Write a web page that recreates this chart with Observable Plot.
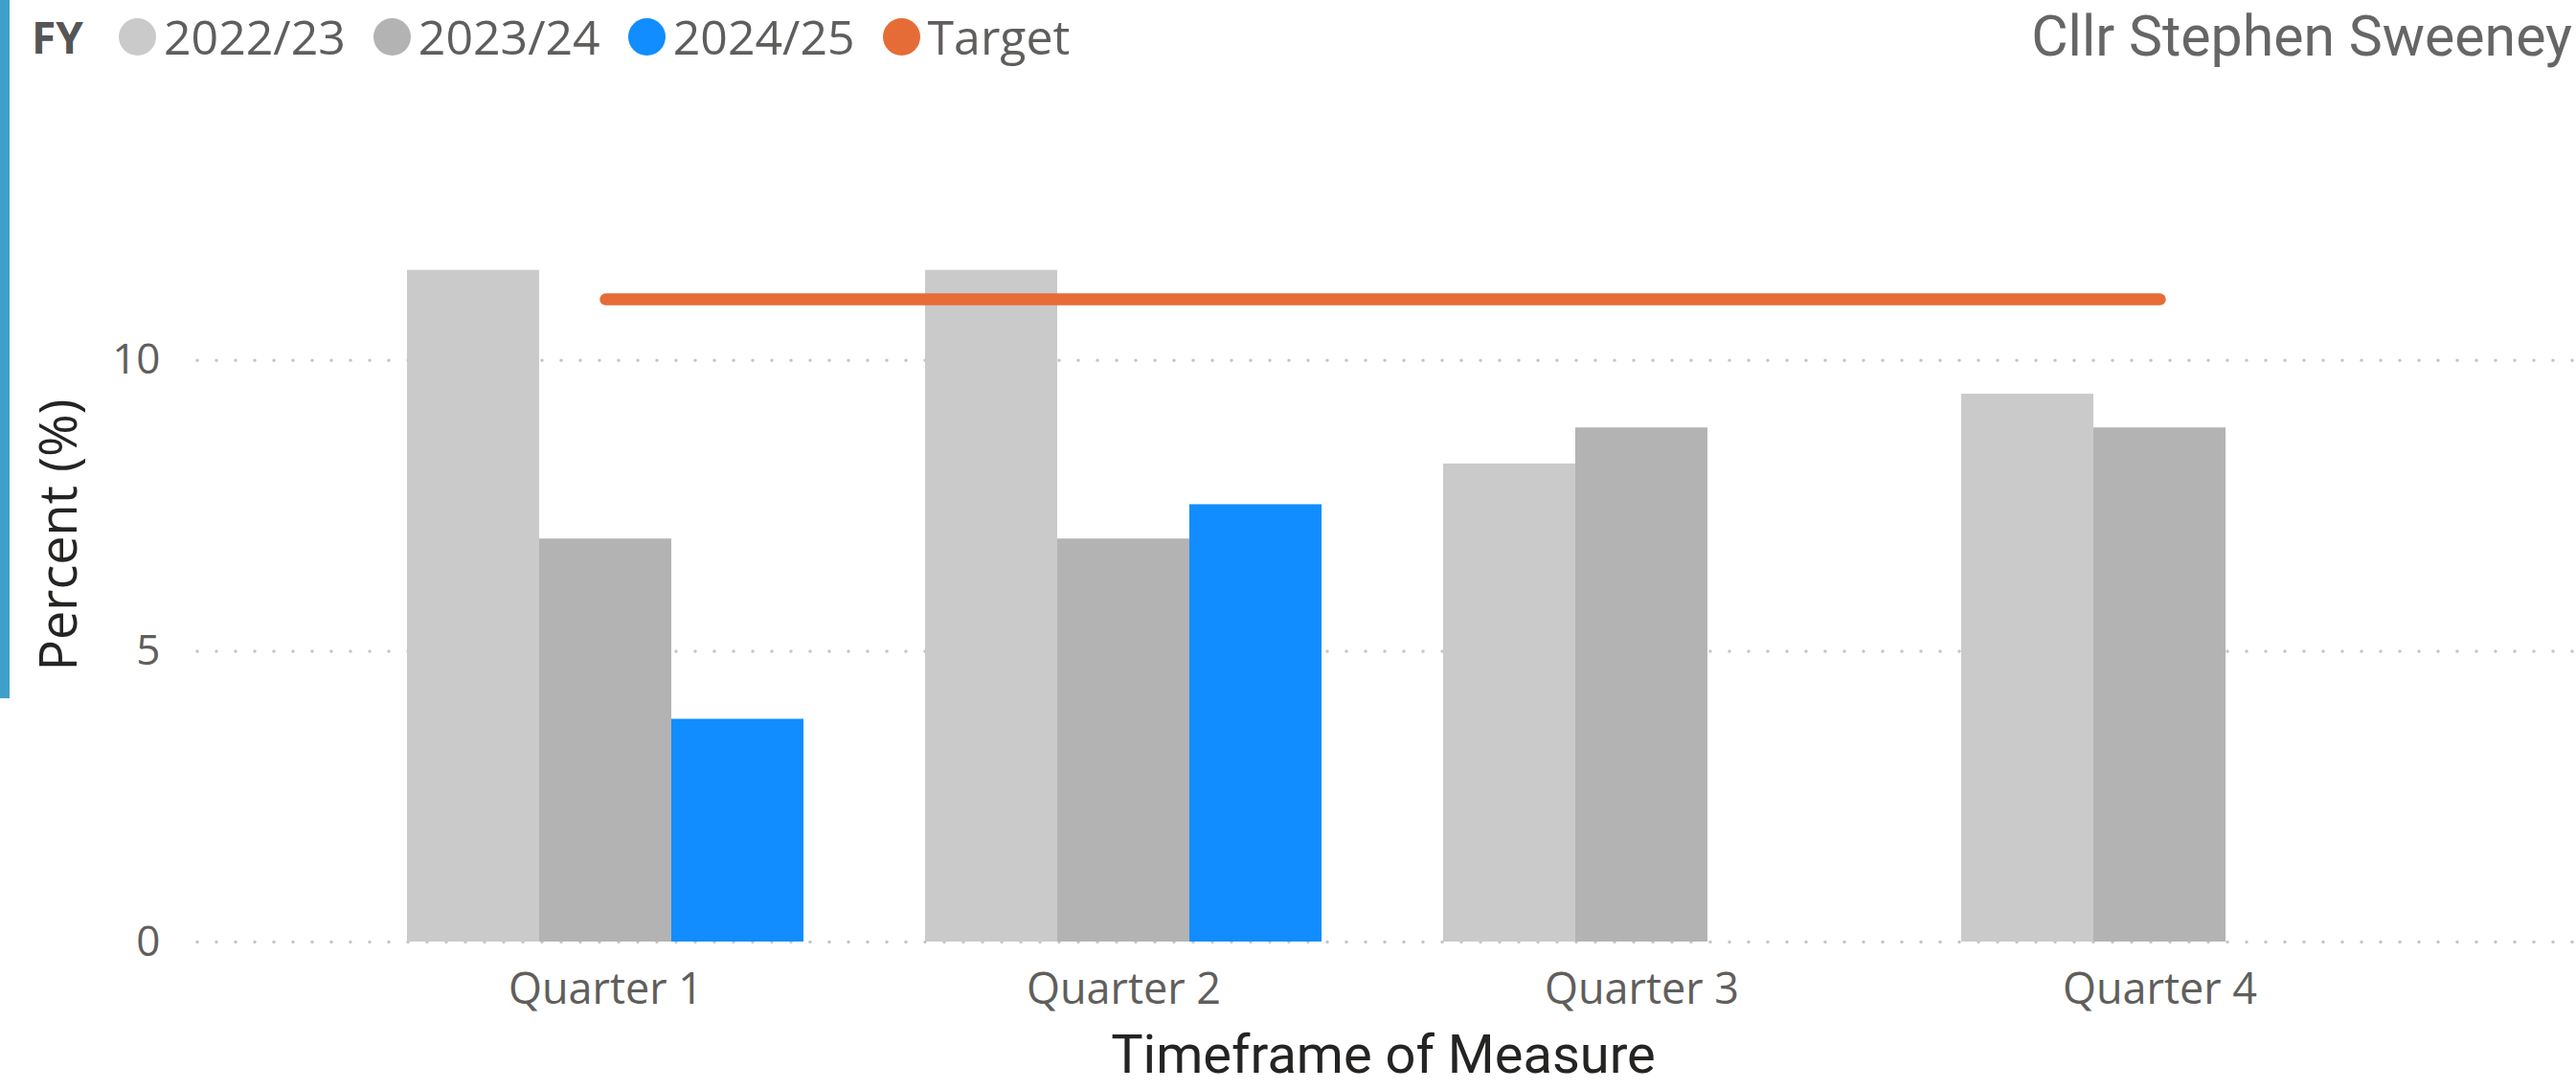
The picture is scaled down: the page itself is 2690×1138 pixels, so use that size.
<!DOCTYPE html>
<html>
<head>
<meta charset="utf-8">
<script src="https://cdn.jsdelivr.net/npm/d3@7"></script>
<script src="https://cdn.jsdelivr.net/npm/@observablehq/plot@0.6"></script>
<style>
html, body { margin: 0; padding: 0; background: #fff; }
#root { position: relative; width: 2690px; height: 1138px; overflow: hidden; font-family: "Open Sans", sans-serif; }
#accent { position: absolute; left: 0; top: 0; width: 10px; height: 729px; background: #3fa0c9; }
#header { position: absolute; left: 0; top: 0; width: 2690px; height: 80px; }
#legend { position: absolute; left: 33px; top: 0; height: 76px; display: flex; align-items: center; color: #605e5c; font-size: 50px; white-space: nowrap; }
#legend .fy { font-weight: 700; font-size: 46px; color: #555; margin-right: 37px; }
#legend .item { display: flex; align-items: center; margin-right: 29px; }
#legend .dot { width: 39px; height: 39px; border-radius: 50%; margin-right: 8px; }
#title { position: absolute; right: 4px; top: 0; height: 76px; line-height: 76px; font-family: Roboto, sans-serif; font-size: 59px; color: #666; white-space: nowrap; }
#plots { position: absolute; left: 0; top: 80px; width: 2690px; height: 1058px; }
#plots svg { position: absolute; left: 0; top: 0; }
</style>
</head>
<body>
<div id="root">
  <div id="accent"></div>
  <div id="header">
    <div id="legend"></div>
    <div id="title">Cllr Stephen Sweeney</div>
  </div>
  <div id="plots"></div>
</div>
<script>
// ---- data ----
const quarters = ["Quarter 1", "Quarter 2", "Quarter 3", "Quarter 4"];
const fys = ["2022/23", "2023/24", "2024/25"];
const values2022 = [11.55, 11.55, 8.22, 9.42];
const values2023 = [6.93, 6.93, 8.84, 8.84];
const values2024 = [3.83, 7.52, null, null];
const targetValues = [11.05, 11.05, 11.05, 11.05];
const yTicks = [0, 5, 10];
const legendLabels = ["2022/23", "2023/24", "2024/25", "Target"];
const fyColors = ["#cacaca", "#b3b3b3", "#118dff"];
const targetColor = "#e66c37";

// ---- tables built from arrays ----
const seriesByFy = [values2022, values2023, values2024];
const bars = quarters.flatMap((q, i) =>
  fys.map((fy, j) => ({quarter: q, fy, value: seriesByFy[j][i]})).filter(d => d.value != null)
);
const targetRows = quarters.map((q, i) => ({quarter: q, target: targetValues[i]}));

// ---- legend ----
const legend = document.getElementById("legend");
const fyEl = document.createElement("span");
fyEl.className = "fy"; fyEl.textContent = "FY";
legend.appendChild(fyEl);
legendLabels.forEach((lab, i) => {
  const item = document.createElement("span");
  item.className = "item";
  const dot = document.createElement("span");
  dot.className = "dot";
  dot.style.background = i < fyColors.length ? fyColors[i] : targetColor;
  const t = document.createElement("span");
  t.textContent = lab;
  item.appendChild(dot); item.appendChild(t);
  legend.appendChild(item);
});

// ---- shared layout ----
const W = 2690, H = 1058;
const margins = {marginLeft: 206, marginRight: 8, marginTop: 53, marginBottom: 155};
const yDomain = [0, 14];
const bandPad = {paddingInner: 0.234, paddingOuter: 0.4025};
const baseStyle = {fontFamily: "'Open Sans', sans-serif", fontSize: "45px", color: "#605e5c", background: "transparent", overflow: "visible"};

// back layer: grid, axes, axis titles
const back = Plot.plot({
  width: W, height: H, ...margins, style: baseStyle,
  x: {type: "band", domain: quarters, ...bandPad},
  y: {domain: yDomain},
  marks: [
    Plot.ruleY(yTicks, {stroke: "#c6c6c6", strokeWidth: 3.5, strokeDasharray: "0 20", strokeLinecap: "round", insetRight: -8}),
    Plot.axisY(yTicks, {tickSize: 0, tickPadding: 39, label: null, fontSize: 44, tickFormat: d => String(d)}),
    Plot.axisX({tickSize: 0, tickPadding: 33, label: null, fontSize: 45}),
    Plot.text(["Percent (%)"], {text: d => d, frameAnchor: "left", textAnchor: "middle", lineAnchor: "middle", rotate: -90, dx: -144, fontSize: 54, fill: "#252423"}),
    Plot.text(["Timeframe of Measure"], {text: d => d, frameAnchor: "bottom", textAnchor: "middle", lineAnchor: "middle", dy: 119, fontSize: 56, fontFamily: "Roboto, sans-serif", fill: "#252423"})
  ]
});

// middle layer: grouped bars
const mid = Plot.plot({
  width: W, height: H, ...margins, style: baseStyle,
  fx: {domain: quarters, ...bandPad, axis: null, label: null},
  x: {domain: fys, padding: 0, axis: null},
  y: {domain: yDomain, axis: null},
  color: {domain: fys, range: fyColors},
  marks: [
    Plot.barY(bars, {fx: "quarter", x: "fy", y: "value", fill: "fy"})
  ]
});

// front layer: target line
const front = Plot.plot({
  width: W, height: H, ...margins, style: baseStyle,
  x: {type: "band", domain: quarters, ...bandPad, axis: null},
  y: {domain: yDomain, axis: null},
  marks: [
    Plot.lineY(targetRows, {x: "quarter", y: "target", stroke: targetColor, strokeWidth: 12.5, strokeLinecap: "round"})
  ]
});

const plots = document.getElementById("plots");
plots.appendChild(back);
plots.appendChild(mid);
plots.appendChild(front);
</script>
</body>
</html>
